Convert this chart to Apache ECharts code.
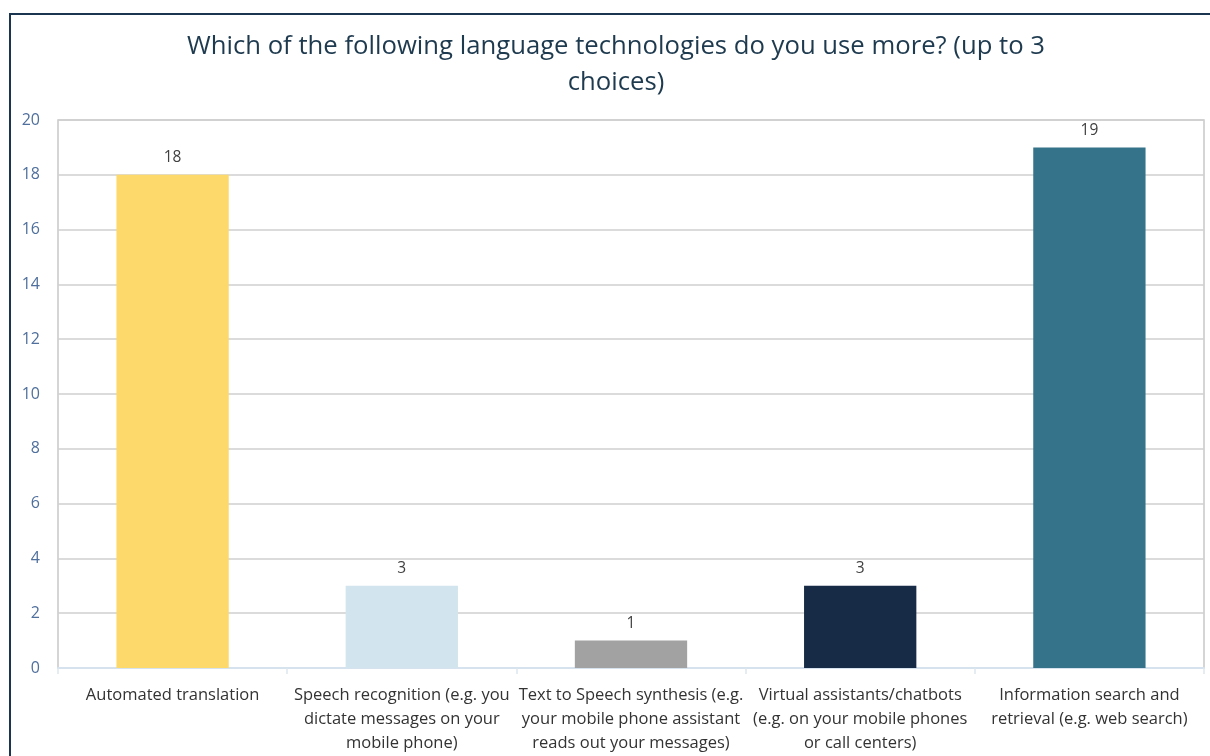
<!DOCTYPE html>
<html>
<head>
<meta charset="utf-8">
<script src="https://cdn.jsdelivr.net/npm/echarts@6/dist/echarts.min.js"></script>
<style>
  html, body { margin: 0; padding: 0; background: #fff; }
  #chart { width: 1210px; height: 756px; }
</style>
</head>
<body>
<div id="chart"></div>
<script>
// Survey answers: how many respondents use each language technology
const categories = [
  'Automated translation',
  'Speech recognition (e.g. you\ndictate messages on your\nmobile phone)',
  'Text to Speech synthesis (e.g.\nyour mobile phone assistant\nreads out your messages)',
  'Virtual assistants/chatbots\n(e.g. on your mobile phones\nor call centers)',
  'Information search and\nretrieval (e.g. web search)'
];
const counts = [18, 3, 1, 3, 19];
const barColors = ['#fdd96b', '#d2e4ed', '#a2a2a2', '#172b47', '#35738a'];
const yTicks = { min: 0, max: 20, step: 2 };

const FONT = '"Open Sans", "Noto Sans", sans-serif';
const chart = echarts.init(document.getElementById('chart'));

chart.setOption({
  animation: false,
  backgroundColor: '#ffffff',
  title: {
    text: 'Which of the following language technologies do you use more? (up to 3\nchoices)',
    left: 611,
    top: 24,
    textAlign: 'center',
    textStyle: {
      fontFamily: FONT,
      fontSize: 25.7,
      fontWeight: 'normal',
      color: '#1e3a4f',
      lineHeight: 36,
      align: 'center'
    }
  },
  graphic: [{
    type: 'rect',
    shape: { x: 10, y: 14, width: 1240, height: 800 },
    style: { fill: 'none', stroke: '#1b3550', lineWidth: 2 },
    silent: true
  }],
  grid: {
    left: 58,
    right: 6,
    top: 120,
    bottom: 88,
    show: true,
    borderColor: '#c8c8c8',
    borderWidth: 1.5
  },
  xAxis: {
    type: 'category',
    data: categories,
    axisLine: { lineStyle: { color: '#d6e2ee', width: 2 } },
    axisTick: { show: true, alignWithLabel: false, length: 6, lineStyle: { color: '#dde6ee', width: 1.5 } },
    axisLabel: {
      interval: 0,
      margin: 15,
      fontFamily: FONT,
      fontSize: 16.5,
      lineHeight: 24,
      color: '#333333'
    }
  },
  yAxis: {
    type: 'value',
    min: yTicks.min,
    max: yTicks.max,
    interval: yTicks.step,
    axisLine: { show: false },
    axisTick: { show: false },
    splitLine: { lineStyle: { color: '#cfcfcf', width: 1.5 } },
    axisLabel: {
      margin: 18,
      fontFamily: FONT,
      fontSize: 16,
      color: '#4f6f9c'
    }
  },
  series: [{
    type: 'bar',
    data: counts.map((v, i) => ({ value: v, itemStyle: { color: barColors[i] } })),
    barWidth: '49%',
    label: {
      show: true,
      position: 'top',
      distance: 9,
      fontFamily: FONT,
      fontSize: 15.5,
      color: '#404040'
    }
  }]
});
</script>
</body>
</html>
